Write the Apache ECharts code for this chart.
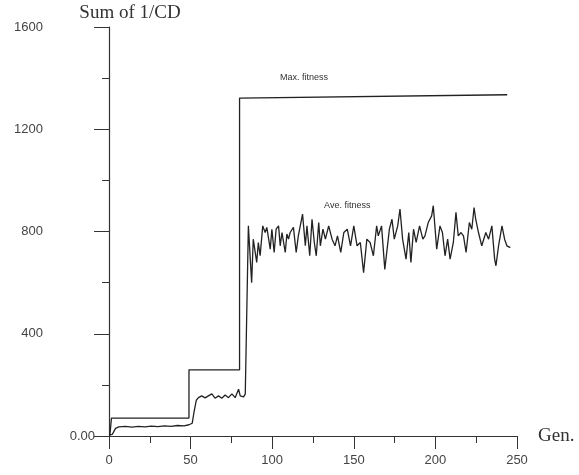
<!DOCTYPE html>
<html>
<head>
<meta charset="utf-8">
<script src="https://cdn.jsdelivr.net/npm/echarts@6/dist/echarts.min.js"></script>
<style>
  html, body { margin: 0; padding: 0; background: #fff; }
  #chart { width: 579px; height: 475px; }
</style>
</head>
<body>
<div id="chart"></div>
<script>
// values
var yTicks = [0, 400, 800, 1200, 1600];
var xTicks = [0, 50, 100, 150, 200, 250];

// Max. fitness (step shaped)
var maxGen = [0.5, 1.5, 1.5, 49, 49, 80, 80, 244];
var maxFit = [0, 0, 70, 70, 259, 259, 1322, 1335];

// Ave. fitness
var aveGen = [0, 2, 3, 4, 6, 10, 14, 18, 22, 26, 30, 34, 38, 42, 46, 49, 51, 52, 53.5,
  54.8, 56.8, 58.9, 60.9, 63, 65, 67.1, 69.1, 71.2, 73.2, 75.3, 77.3, 79.4, 80.4, 82.5, 83.5, 84.3,
  85.4, 87.4, 88.4, 90.5, 91.5, 92.6, 94.2, 95.7, 96.7, 97.7, 98.8, 99.8, 101.2, 102.4, 103.9, 104.9,
  106, 108, 109, 110, 111, 113, 114.7, 116, 118.6, 120.3, 121.3, 123, 124.4, 125.8, 127, 128.5,
  129.5, 131.1, 132.6, 134.6, 136.7, 138.5, 140, 142, 143.9, 146, 148, 150, 152, 154, 156, 158,
  160, 162, 164, 165, 167, 169, 171.8, 173.4, 174.8, 176.9, 178.3, 179.9, 182, 183.7, 185, 186.6,
  188.2, 190.3, 192.3, 193.6, 195.6, 197.7, 198.7, 200.8, 202.8, 204.3, 205.9, 207.5, 209, 211,
  212.6, 214, 215.7, 217.2, 218.8, 220.8, 222.3, 223.7, 224.7, 226.4, 228.4, 230.9, 232.6, 234.6,
  236.3, 237.1, 238.7, 240.8, 242.4, 243.8, 245.9];
var aveFit = [4, 6, 18, 30, 36, 38, 35, 38, 36, 39, 37, 40, 38, 41, 40, 44, 50, 90, 140,
  150, 157, 149, 157, 165, 148, 157, 148, 160, 150, 165, 150, 183, 157, 153, 165, 160,
  822, 600, 770, 679, 757, 705, 822, 796, 816, 809, 731, 809, 718, 809, 822, 744,
  796, 718, 790, 770, 796, 816, 718, 783, 868, 744, 822, 705, 848, 757, 705, 835,
  744, 809, 770, 822, 770, 744, 783, 718, 796, 809, 744, 822, 744, 757, 639, 770,
  757, 705, 822, 783, 822, 652, 809, 848, 770, 822, 888, 770, 692, 796, 679, 809,
  757, 822, 770, 783, 835, 861, 901, 731, 822, 796, 705, 770, 692, 757,
  875, 783, 796, 783, 718, 835, 809, 894, 848, 796, 744, 796, 770, 822,
  692, 666, 744, 822, 770, 744, 737];

// where the two curve captions sit, in data units
var maxCaption = [119.5, 1404];
var aveCaption = [146, 902];

function pairs(xs, ys) {
  return xs.map(function (x, i) { return [x, ys[i]]; });
}

var ink = '#222';
var labelFont = 'Liberation Sans, Arial, sans-serif';
var serifFont = 'Liberation Serif, Times New Roman, serif';

function caption(text, at) {
  return {
    symbol: 'circle',
    symbolSize: 1,
    itemStyle: { color: 'rgba(0,0,0,0)' },
    label: { show: true, position: 'inside', formatter: text, fontFamily: labelFont, fontSize: 9, color: '#333' },
    data: [{ coord: at }]
  };
}

var chart = echarts.init(document.getElementById('chart'));
var option = {
  backgroundColor: '#fff',
  animation: false,
  grid: { left: 109, right: 62, top: 27, bottom: 39 },
  xAxis: {
    type: 'value',
    min: 0,
    max: 250,
    interval: 50,
    name: 'Gen.',
    nameLocation: 'end',
    nameGap: 21,
    nameTextStyle: { fontFamily: serifFont, fontSize: 19, color: '#333', padding: [0, 0, 22, 0] },
    axisLine: { show: true, onZero: false, lineStyle: { color: '#333', width: 1.2 } },
    axisTick: { show: true, length: 13, lineStyle: { color: '#333' } },
    minorTick: { show: true, splitNumber: 2, length: 7, lineStyle: { color: '#333' } },
    splitLine: { show: false },
    axisLabel: {
      margin: 18,
      fontFamily: labelFont,
      fontSize: 13,
      color: '#444',
      formatter: function (v) { return xTicks.indexOf(v) >= 0 ? String(v) : ''; }
    }
  },
  yAxis: {
    type: 'value',
    min: 0,
    max: 1600,
    interval: 400,
    name: 'Sum of 1/CD',
    nameLocation: 'end',
    nameGap: 4,
    nameTextStyle: { fontFamily: serifFont, fontSize: 19, color: '#333', padding: [0, 0, 0, 42] },
    axisLine: { show: true, lineStyle: { color: '#333', width: 1.2 } },
    axisTick: { show: true, length: 15, lineStyle: { color: '#333' } },
    minorTick: { show: true, splitNumber: 2, length: 7, lineStyle: { color: '#333' } },
    splitLine: { show: false },
    axisLabel: {
      margin: 14,
      formatter: function (v) {
        if (yTicks.indexOf(v) < 0) return '';
        return v === 0 ? '{z|0.00}' : '{a|' + v + '}';
      },
      rich: {
        a: { fontFamily: labelFont, fontSize: 13, color: '#444', padding: [0, 52, 0, 0] },
        z: { fontFamily: labelFont, fontSize: 13, color: '#444' }
      }
    }
  },
  series: [
    {
      name: 'Max. fitness',
      type: 'line',
      data: pairs(maxGen, maxFit),
      showSymbol: false,
      lineStyle: { color: ink, width: 1.3 },
      markPoint: caption('Max. fitness', maxCaption)
    },
    {
      name: 'Ave. fitness',
      type: 'line',
      data: pairs(aveGen, aveFit),
      showSymbol: false,
      lineStyle: { color: ink, width: 1.3 },
      markPoint: caption('Ave. fitness', aveCaption)
    }
  ]
};
chart.setOption(option);
</script>
</body>
</html>
